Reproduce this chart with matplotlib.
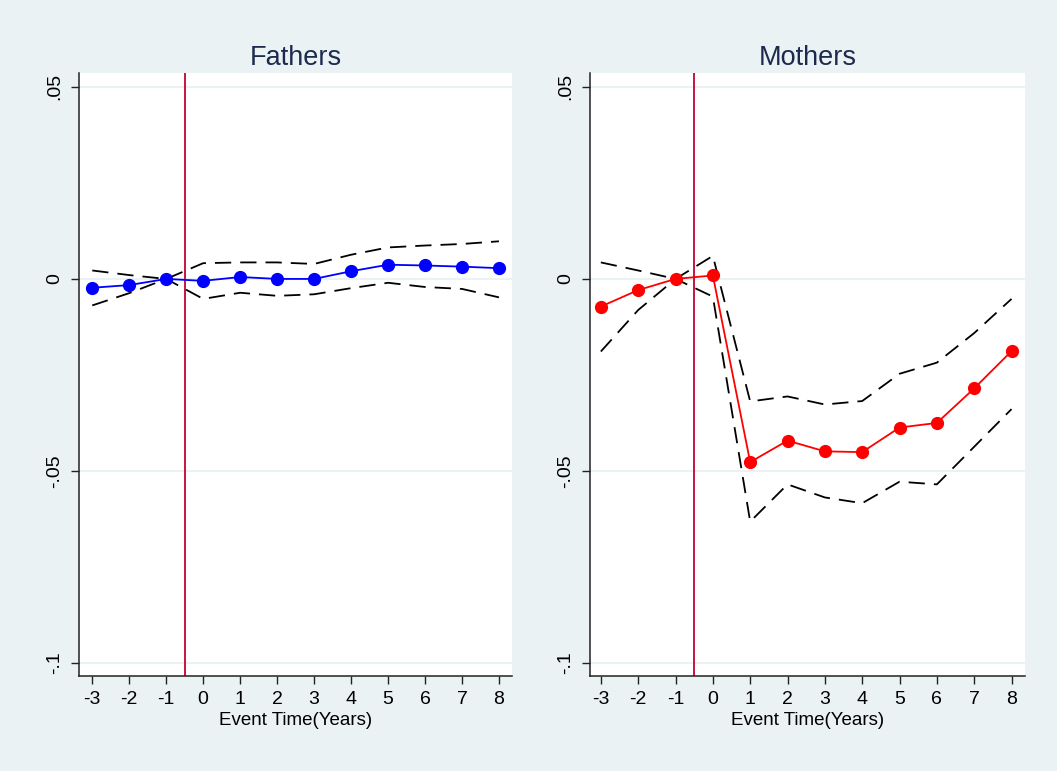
import matplotlib

matplotlib.use("Agg")
import matplotlib.pyplot as plt

# event time (years relative to first child)
event_time = [-3, -2, -1, 0, 1, 2, 3, 4, 5, 6, 7, 8]

# Fathers: point estimates and 95% CI bands
fathers_est = [-0.0023, -0.0016, 0.0, -0.0005, 0.0005, 0.0, 0.0, 0.002, 0.0037, 0.0035, 0.0032, 0.0028]
fathers_hi = [0.0022, 0.001, 0.0, 0.0041, 0.0043, 0.0043, 0.0039, 0.0063, 0.0082, 0.0087, 0.0091, 0.0098]
fathers_lo = [-0.0069, -0.0037, 0.0, -0.0052, -0.0036, -0.0044, -0.004, -0.0024, -0.001, -0.0021, -0.0026, -0.0048]

# Mothers: point estimates and 95% CI bands
mothers_est = [-0.0072, -0.0029, 0.0, 0.0009, -0.0477, -0.0421, -0.0449, -0.0451, -0.0387, -0.0375, -0.0285, -0.0188]
mothers_hi = [0.0043, 0.0022, 0.0, 0.006, -0.0319, -0.0306, -0.0327, -0.0318, -0.0247, -0.0218, -0.0141, -0.0052]
mothers_lo = [-0.0189, -0.0081, 0.0, -0.0046, -0.0632, -0.0535, -0.0569, -0.0584, -0.0528, -0.0535, -0.0437, -0.0339]

y_ticks = [-0.1, -0.05, 0.0, 0.05]
y_tick_labels = ["-.1", "-.05", "0", ".05"]

BG = "#eaf2f3"
TITLE_COLOR = "#1c2a4f"
plt.rcParams["font.family"] = ["Liberation Sans", "DejaVu Sans"]

fig = plt.figure(figsize=(10.57, 7.71), dpi=100, facecolor=BG)

panels = [
    ("Fathers", fathers_est, fathers_hi, fathers_lo, "#0000ff", [0.0747, 0.1232, 0.4096, 0.782], (-3.36, 8.35)),
    ("Mothers", mothers_est, mothers_hi, mothers_lo, "#ff0000", [0.5582, 0.1232, 0.4115, 0.782], (-3.29, 8.36)),
]

for title, est, hi, lo, color, rect, xlim in panels:
    ax = fig.add_axes(rect)
    ax.set_facecolor("white")

    for yt in y_ticks:
        ax.axhline(yt, color=BG, lw=1.5, zorder=0)

    ax.axvline(-0.5, color="#c8143c", lw=1.4, zorder=1)
    ax.plot(event_time, hi, color="black", lw=1.3, dashes=(9, 5), zorder=2)
    ax.plot(event_time, lo, color="black", lw=1.3, dashes=(9, 5), zorder=2)
    ax.plot(event_time, est, color=color, lw=1.3, marker="o", markersize=8.5, zorder=3)

    ax.set_xlim(*xlim)
    ax.set_ylim(-0.1034, 0.0536)
    ax.set_xticks(event_time)
    ax.set_xticklabels([str(t) for t in event_time])
    ax.set_yticks(y_ticks)
    ax.set_yticklabels(y_tick_labels, rotation=90, va="center")

    for side in ("top", "right"):
        ax.spines[side].set_visible(False)
    for side in ("left", "bottom"):
        ax.spines[side].set_color("#222222")
        ax.spines[side].set_linewidth(1.1)

    ax.tick_params(axis="both", direction="out", length=5.5, width=1.0, color="#222222", labelsize=14)
    ax.tick_params(axis="x", pad=5)
    ax.tick_params(axis="y", pad=6)
    ax.set_xlabel("Event Time(Years)", fontsize=13.5, labelpad=3)
    ax.set_title(title, fontsize=19.5, color=TITLE_COLOR, pad=6)

fig.savefig("out.png", dpi=100, facecolor=BG)
plt.close(fig)
